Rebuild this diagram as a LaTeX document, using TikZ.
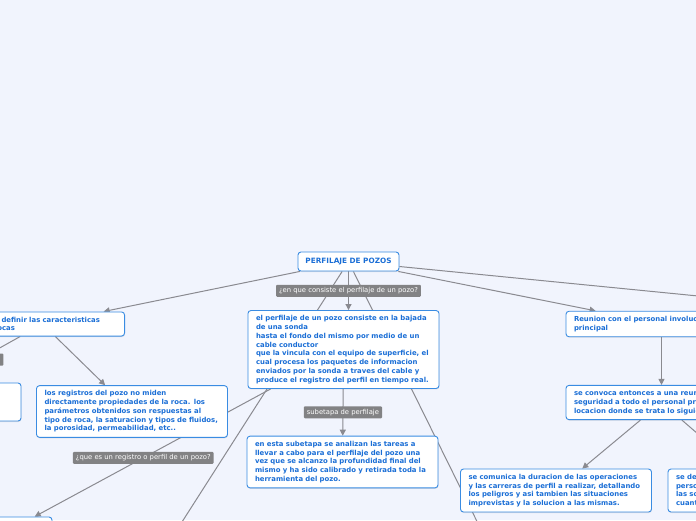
\documentclass[tikz,border=0pt]{standalone}
\usepackage{fontspec}
\setmainfont{DejaVu Sans}
\usetikzlibrary{arrows.meta,shadows}
\definecolor{fondo}{RGB}{241,244,253}
\definecolor{azul}{RGB}{58,140,226}
\definecolor{azultxt}{RGB}{26,110,214}
\definecolor{gris}{RGB}{138,138,144}
\definecolor{etiq}{RGB}{130,130,132}
\pgfdeclarelayer{atras}
\pgfsetlayers{atras,main}
\tikzset{
  base/.style={draw=azul, fill=white, rounded corners=3pt, line width=0.9pt,
    text=azultxt, drop shadow={shadow xshift=0.4pt, shadow yshift=-1pt, opacity=0.2}},
  caja/.style={base, align=left, text width=175pt, inner xsep=8pt, inner ysep=5pt,
    font=\fontsize{6.9}{8.75}\selectfont\bfseries},
  raiz/.style={base, minimum width=101pt, minimum height=19pt, inner sep=2pt,
    font=\fontsize{7.3}{9}\selectfont\bfseries},
  etiqueta/.style={fill=etiq, text=white, rounded corners=1pt, inner xsep=3pt, inner ysep=2pt,
    minimum height=12pt, font=\fontsize{6.8}{8}\selectfont},
  flecha/.style={draw=gris, line width=1pt, -{Triangle[length=6pt,width=6pt]}},
  linea/.style={draw=gris, line width=1pt}
}
\begin{document}
\begin{tikzpicture}[x=1pt,y=-1pt]
\useasboundingbox (0,0) rectangle (696,520);
\node[raiz] (perfilaje) at (348.5,261.5) {PERFILAJE DE POZOS};
\node[caja, text width=148pt, anchor=east] (rocas) at (125,324) {Permite definir las caracteristicas\\de las rocas};
\node[base, minimum width=236pt, minimum height=38pt] (oculto) at (-97,402) {};
\node[caja] (consiste) at (343.5,349.5) {el perfilaje de un pozo consiste en la bajada\\de una sonda\\hasta el fondo del mismo por medio de un\\cable conductor\\que la vincula con el equipo de superficie, el\\cual procesa los paquetes de informacion\\enviados por la sonda a traves del cable y\\produce el registro del perfil en tiempo real.};
\node[caja] (propiedades) at (132,411.5) {los registros del pozo no miden\\directamente propiedades de la roca. los\\parámetros obtenidos son respuestas al\\tipo de roca, la saturacion y tipos de fluidos,\\la porosidad, permeabilidad, etc..};
\node[caja] (subetapa) at (342.5,462) {en esta subetapa se analizan las tareas a\\llevar a cabo para el perfilaje del pozo una\\vez que se alcanzo la profundidad final del\\mismo y ha sido calibrado y retirada toda la\\herramienta del pozo.};
\node[base, minimum width=110pt, minimum height=40pt] (registro) at (-3,537) {};
\node[caja] (reunion) at (661.5,324) {Reunion con el personal involucrado\\principal};
\node[caja] (convoca) at (661.5,402.5) {se convoca entonces a una reunion de\\seguridad a todo el personal presente en la\\locacion donde se trata lo siguiente:};
\node[caja] (comunica) at (556,490.5) {se comunica la duracion de las operaciones\\y las carreras de perfil a realizar, detallando\\los peligros y asi tambien las situaciones\\imprevistas y la solucion a las mismas.};
\node[caja] (detalla) at (763.5,490.5) {se detallan las tareas de cada\\persona y la ubicacion de\\las sondas y equipos en\\cuanto a la seguridad.};
\coordinate (lejosder) at (850,311);
\coordinate (lejosizq) at (150,572);
\coordinate (lejosabajo) at (502,572);
\begin{pgfonlayer}{atras}
\fill[fondo] (0,0) rectangle (696,520);
% ramas que salen del cuadro
\draw[linea] (perfilaje) -- (lejosder);
\draw[linea] (perfilaje) -- (lejosizq);
\draw[linea] (perfilaje) -- (lejosabajo);
\draw[flecha] (perfilaje) -- (rocas);
\draw[flecha] (perfilaje) -- (reunion);
\draw[flecha] (perfilaje) -- (perfilaje |- consiste.north) node[etiqueta, midway] {¿en que consiste el perfilaje de un pozo?};
\draw[flecha] (rocas) -- (propiedades);
\draw[flecha] (rocas) -- (oculto) node[etiqueta, midway, minimum width=49pt] {};
\draw[flecha] (consiste) -- (subetapa) node[etiqueta, midway] {subetapa de perfilaje};
\draw[flecha] (consiste) -- (registro) node[etiqueta, pos=0.54] {¿que es un registro o perfil de un pozo?};
\draw[flecha] (reunion) -- (convoca);
\draw[flecha] (convoca) -- (comunica);
\draw[flecha] (convoca) -- (detalla);
\end{pgfonlayer}
\end{tikzpicture}
\end{document}
